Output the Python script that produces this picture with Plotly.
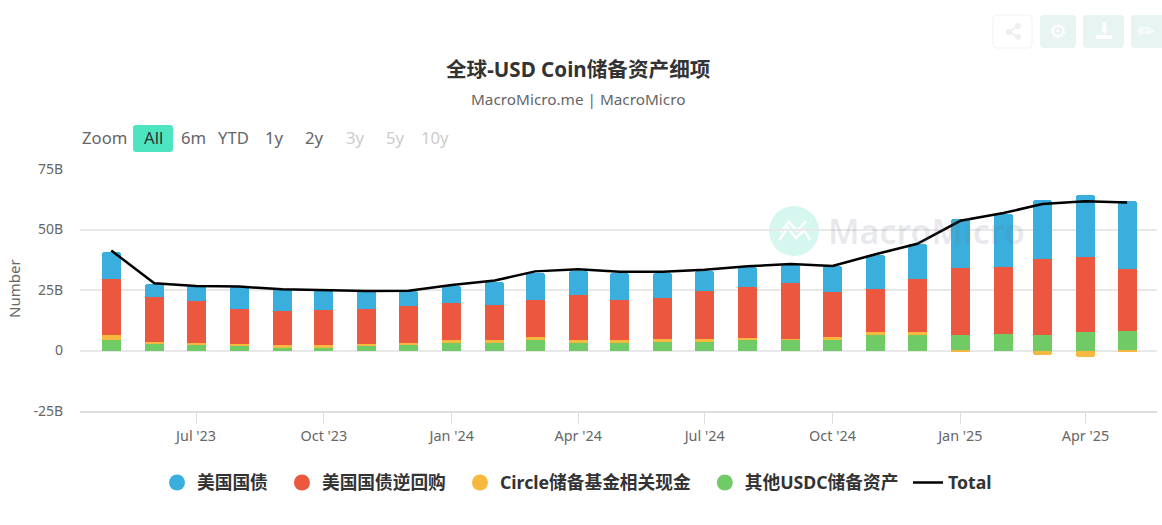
import plotly.graph_objects as go

months = ["2023-05-01","2023-06-01","2023-07-01","2023-08-01","2023-09-01","2023-10-01","2023-11-01","2023-12-01",
          "2024-01-01","2024-02-01","2024-03-01","2024-04-01","2024-05-01","2024-06-01","2024-07-01","2024-08-01",
          "2024-09-01","2024-10-01","2024-11-01","2024-12-01","2025-01-01","2025-02-01","2025-03-01","2025-04-01","2025-05-01"]
treasury = [11.5,5.6,6.3,9.1,9.1,8.1,7.3,6.2,7.2,9.5,11.2,9.6,11.2,10.7,8.4,8.3,7.4,10.7,14.3,14.5,20.3,22.0,24.6,25.7,28.1]
repo = [23.0,18.3,17.1,14.5,14.0,14.6,14.5,15.1,15.2,14.6,15.5,18.8,16.7,16.7,19.8,21.1,22.9,18.7,17.7,21.8,27.6,27.5,31.3,31.1,25.6]
circle_cash = [2.1,1.1,1.2,0.7,1.2,1.2,0.7,0.7,1.1,1.1,1.2,1.1,1.1,1.1,1.1,0.6,0.5,1.2,1.2,1.2,-0.8,0.0,-1.9,-2.5,-0.4]
other = [4.3,2.6,2.1,2.1,1.0,1.0,2.1,2.6,3.2,3.2,4.3,3.2,3.2,3.7,3.7,4.4,4.4,4.3,6.4,6.4,6.4,7.0,6.4,7.6,8.0]
total = [41.3,27.8,26.7,26.4,25.3,24.9,24.6,24.7,27.1,28.9,32.7,33.6,32.5,32.5,33.4,34.8,35.7,34.9,39.8,44.1,53.6,56.8,60.5,61.7,61.2]

series_names = ["美国国债","美国国债逆回购","Circle储备基金相关现金","其他USDC储备资产"]
legend_pad = ["\u00a0\u00a0","\u00a0\u00a0","\u00a0\u00a0","\u00a0"]
series_colors = ["#3AAEDC","#EB573F","#F6B83F","#70CB66"]
y_ticks = [-25,0,25,50,75]
y_labels = ["-25B","0","25B","50B","75B"]
x_ticks = ["2023-07-01","2023-10-01","2024-01-01","2024-04-01","2024-07-01","2024-10-01","2025-01-01","2025-04-01"]
x_labels = ["Jul '23","Oct '23","Jan '24","Apr '24","Jul '24","Oct '24","Jan '25","Apr '25"]
zoom_labels = ["All","6m","YTD","1y","2y","3y","5y","10y"]
zoom_centers = [153,193,233,274,314,355,395,435]

W, H = 1162, 525
L, R, T, B = 80, 1157, 169, 411
FONT = "Noto Sans, Open Sans, Noto Sans CJK SC, sans-serif"
px = lambda x: (x - L) / (R - L)
py = lambda y: (B - y) / (B - T)

fig = go.Figure()
bar_width = 13.7 * 86400000
for vals, i in [(other,3),(circle_cash,2),(repo,1),(treasury,0)]:
    fig.add_trace(go.Bar(x=months, y=vals, name=series_names[i], width=bar_width, showlegend=False,
                         marker=dict(color=series_colors[i], line=dict(width=0))))
for i in range(4):
    fig.add_trace(go.Scatter(x=[None], y=[None], mode="markers", name=series_names[i] + legend_pad[i],
                             marker=dict(color=series_colors[i], size=16, symbol="circle")))
fig.add_trace(go.Scatter(x=months, y=total, mode="lines", name="Total", line=dict(color="#000000", width=2.5)))

ann = []
def text(x, y, s, size, color, anchor="center", weight=400, family=FONT):
    ann.append(dict(xref="paper", yref="paper", x=px(x), y=py(y), text=s, showarrow=False, xanchor=anchor,
                    yanchor="middle", font=dict(size=size, color=color, family=family, weight=weight)))
def rrect(x0, y0, x1, y1, r, fill, line="rgba(0,0,0,0)"):
    d = (f"M{px(x0+r)},{py(y0)} L{px(x1-r)},{py(y0)} Q{px(x1)},{py(y0)} {px(x1)},{py(y0+r)} "
         f"L{px(x1)},{py(y1-r)} Q{px(x1)},{py(y1)} {px(x1-r)},{py(y1)} L{px(x0+r)},{py(y1)} "
         f"Q{px(x0)},{py(y1)} {px(x0)},{py(y1-r)} L{px(x0)},{py(y0+r)} Q{px(x0)},{py(y0)} {px(x0+r)},{py(y0)} Z")
    return dict(type="path", xref="paper", yref="paper", path=d, fillcolor=fill, line=dict(color=line, width=1), layer="below")

text(578, 69, "全球-USD Coin储备资产细项", 20.6, "#333333", weight=700)
text(578, 99, "MacroMicro.me | MacroMicro", 15.3, "#666666")
text(80, 137.5, "Zoom", 16.7, "#666666", anchor="left")
for i, (lab, c) in enumerate(zip(zoom_labels, zoom_centers)):
    text(c, 137.5, lab, 16.7, "#333333" if i == 0 else ("#666666" if i < 5 else "#CCCCCC"))
ann.append(dict(xref="paper", yref="paper", x=px(14), y=py(289), xanchor="center", yanchor="middle", text="Number",
                textangle=-90, showarrow=False, font=dict(size=15, color="#666666", family=FONT)))
text(826, 231, "MacroMicro", 34, "rgba(110,120,135,0.17)", anchor="left", weight=600)

shapes = [rrect(133, 125, 173, 152, 3, "#4DE4C0"),
          rrect(993, 15, 1032, 48, 4, "#FFFFFF", "#F2F2F2"),
          rrect(1040, 15, 1076, 48, 4, "#E8F4F2"),
          rrect(1083, 15, 1124, 48, 4, "#E8F4F2"),
          rrect(1131, 15, 1172, 48, 4, "#E8F4F2"),
          dict(type="circle", xref="paper", yref="paper", x0=px(769), x1=px(819), y0=py(256), y1=py(206),
               fillcolor="#D5F7F0", line=dict(width=0), layer="below"),
          dict(type="path", xref="paper", yref="paper",
               path=f"M{px(779)},{py(240)} L{px(788)},{py(228)} L{px(796)},{py(238)} L{px(804)},{py(230)} L{px(810)},{py(240)} "
                    f"M{px(781)},{py(232)} L{px(789)},{py(222)} L{px(797)},{py(231)} L{px(806)},{py(221)}",
               line=dict(color="#FFFFFF", width=2.5), layer="below"),
          dict(type="rect", xref="paper", yref="paper", x0=px(1096), x1=px(1112), y0=py(39), y1=py(35),
               fillcolor="#FFFFFF", line=dict(width=0), layer="above")]
for cx, cy, r in [(1018,26,3),(1018,37,3),(1009,32,3)]:
    shapes.append(dict(type="circle", xref="paper", yref="paper", x0=px(cx-r), x1=px(cx+r), y0=py(cy+r), y1=py(cy-r),
                       fillcolor="#EFEFEF", line=dict(width=0), layer="above"))
shapes.append(dict(type="path", xref="paper", yref="paper",
                   path=f"M{px(1018)},{py(26)} L{px(1009)},{py(32)} L{px(1018)},{py(37)}",
                   line=dict(color="#EFEFEF", width=2), layer="above"))
text(1058, 31, "⚙", 20, "#FFFFFF", family="DejaVu Sans")
text(1104, 28, "⬇", 15, "#FFFFFF", family="DejaVu Sans")
text(1146, 31, "✏", 20, "#FFFFFF", family="DejaVu Sans")

fig.update_layout(
    width=W, height=H, margin=dict(l=L, r=W-R, t=T, b=H-B, pad=0, autoexpand=False),
    paper_bgcolor="#FFFFFF", plot_bgcolor="#FFFFFF", barmode="relative", bargap=0, barcornerradius=3,
    font=dict(family=FONT, color="#666666"), annotations=ann, shapes=shapes,
    legend=dict(orientation="h", x=px(157), xanchor="left", y=py(483), yanchor="middle", itemsizing="trace",
                font=dict(size=17.7, color="#333333", family=FONT, weight=700), itemclick=False, itemdoubleclick=False,
                traceorder="normal"),
    xaxis=dict(type="date", range=["2023-04-08 12:00","2025-05-22 12:00"], tickmode="array", tickvals=x_ticks, ticktext=x_labels,
               showgrid=False, zeroline=False, showline=True, linecolor="#DDDDDD", linewidth=2, ticks="outside", ticklen=11,
               tickcolor="#DDDDDD", tickwidth=1, tickfont=dict(size=14.4, color="#666666")),
    yaxis=dict(range=[-25,75], tickmode="array", tickvals=y_ticks, ticktext=y_labels, gridcolor="#E8E8E8", gridwidth=2,
               zeroline=False, showline=False, ticks="", ticklabelstandoff=16, tickfont=dict(size=14, color="#666666")),
    showlegend=True,
)
fig.write_html("out.html", config=dict(displayModeBar=False), post_script="document.body.style.margin='0';")
